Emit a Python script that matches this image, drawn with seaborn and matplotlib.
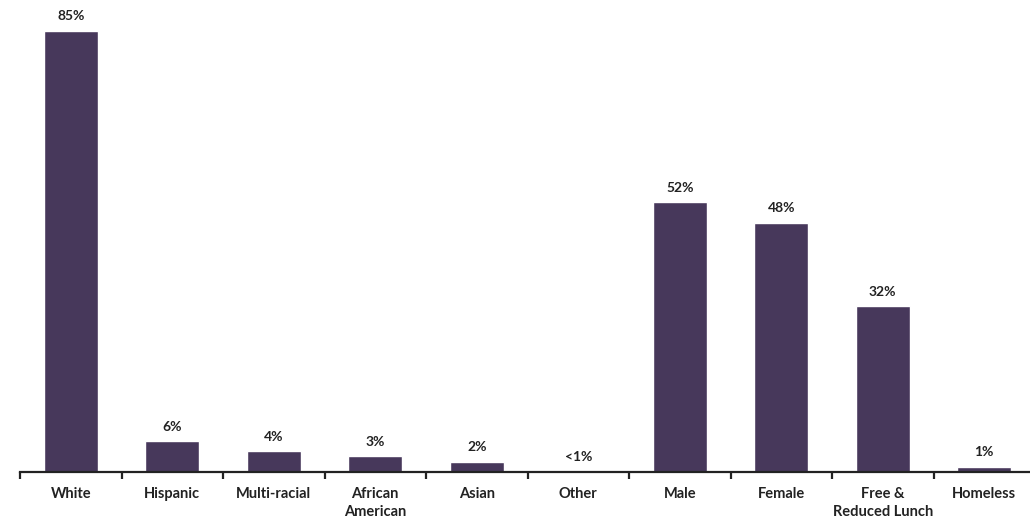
import matplotlib
matplotlib.use("Agg")
import matplotlib.pyplot as plt
import seaborn as sns
import pandas as pd
import numpy as np

categories = ["White", "Hispanic", "Multi-racial", "African\nAmerican", "Asian",
              "Other", "Male", "Female", "Free &\nReduced Lunch", "Homeless"]
values = [85, 6, 4, 3, 2, 0.1, 52, 48, 32, 1]
labels = ["85%", "6%", "4%", "3%", "2%", "<1%", "52%", "48%", "32%", "1%"]

sns.set_theme(style="white")
plt.rcParams["font.family"] = ["Lato", "DejaVu Sans"]

df = pd.DataFrame({"category": categories, "value": values})

fig = plt.figure(figsize=(10.30, 5.19), dpi=100)
ax = fig.add_axes([20 / 1030, 47 / 519, 1015 / 1030, 472 / 519])

bar_color = "#47385b"
sns.barplot(data=df, x="category", y="value", color=bar_color, width=0.53,
            saturation=1, ax=ax)

for i, (v, lab) in enumerate(zip(values, labels)):
    ax.annotate(lab, (i, v), xytext=(0, 6), textcoords="offset points",
                ha="center", va="bottom", fontsize=10, fontweight="bold",
                color="#222222")

ax.set_xlim(-0.5, len(categories) - 0.5)
ax.set_ylim(0, 90.9)
ax.set_xlabel("")
ax.set_ylabel("")
ax.set_yticks([])

for s in ["top", "right", "left"]:
    ax.spines[s].set_visible(False)
ax.spines["bottom"].set_color("#222222")
ax.spines["bottom"].set_linewidth(1.6)

ax.set_xticks(np.arange(len(categories)))
ax.set_xticklabels(categories, fontsize=10.5, fontweight="bold", color="#222222",
                   linespacing=1.3)
ax.set_xticks(np.arange(-0.5, len(categories)), minor=True)
ax.tick_params(axis="x", which="major", length=0, pad=11)
ax.tick_params(axis="x", which="minor", length=5, width=1.6, color="#222222",
               direction="out", bottom=True)

fig.savefig("out.png", dpi=100)
